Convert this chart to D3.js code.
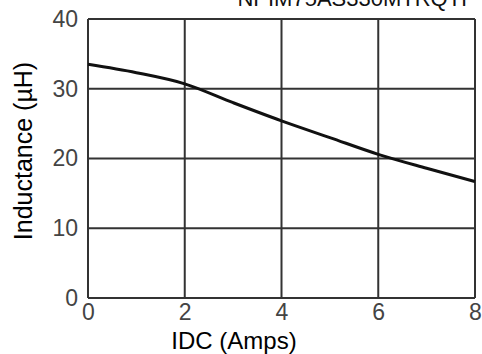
<!DOCTYPE html>
<html>
<head>
<meta charset="utf-8">
<script src="https://cdn.jsdelivr.net/npm/d3@7"></script>
<style>
  body { margin: 0; background: #fff; }
  svg { display: block; font-family: "Liberation Sans", Arial, sans-serif; }
</style>
</head>
<body>
<div id="chart"></div>
<script>
// Data
var currentAmps = [0, 1, 2, 3, 4, 5, 6, 7, 8];
var inductanceUH = [33.5, 32.3, 30.7, 28.0, 25.4, 23.0, 20.6, 18.6, 16.7];
var xTicks = [0, 2, 4, 6, 8];
var yTicks = [0, 10, 20, 30, 40];

var svgWidth = 482;
var svgHeight = 354;
var margin = {top: 19, right: 7, bottom: 56, left: 88};
var width = svgWidth - margin.left - margin.right;
var height = svgHeight - margin.top - margin.bottom;

var svg = d3.select("#chart")
  .append("svg")
  .attr("width", svgWidth)
  .attr("height", svgHeight);

// title, cut off by the top edge like the scan
svg.append("text")
  .attr("x", 356)
  .attr("y", 6)
  .attr("text-anchor", "middle")
  .style("font-size", "22px")
  .attr("fill", "#111")
  .text("NPIM75AS330MTRQTF");

var chart = svg.append("g")
  .attr("transform", `translate(${margin.left}, ${margin.top})`);

var x = d3.scaleLinear().domain([0, 8]).range([0, width]);
var y = d3.scaleLinear().domain([0, 40]).range([height, 0]);

// grid
chart.selectAll(".hgrid")
  .data(yTicks)
  .enter()
  .append("line")
  .attr("x1", 0)
  .attr("x2", width)
  .attr("y1", d => y(d))
  .attr("y2", d => y(d))
  .attr("stroke", "#333")
  .attr("stroke-width", 2);

chart.selectAll(".vgrid")
  .data(xTicks)
  .enter()
  .append("line")
  .attr("x1", d => x(d))
  .attr("x2", d => x(d))
  .attr("y1", 0)
  .attr("y2", height)
  .attr("stroke", "#333")
  .attr("stroke-width", 2);

// axes (labels only)
var bottomAxis = d3.axisBottom(x).tickValues(xTicks).tickSize(0).tickPadding(6);
var leftAxis = d3.axisLeft(y).tickValues(yTicks).tickSize(0).tickPadding(10);

var gx = chart.append("g")
  .attr("transform", `translate(0, ${height})`)
  .call(bottomAxis);
var gy = chart.append("g").call(leftAxis);

[gx, gy].forEach(function(g) {
  g.select(".domain").remove();
  g.selectAll("text")
    .style("font-size", "23px")
    .style("font-family", "'Liberation Sans', Arial, sans-serif")
    .attr("fill", "#444");
});

// curve
var line = d3.line()
  .x((d, i) => x(currentAmps[i]))
  .y(d => y(d))
  .curve(d3.curveMonotoneX);

chart.append("path")
  .datum(inductanceUH)
  .attr("d", line)
  .attr("fill", "none")
  .attr("stroke", "#111")
  .attr("stroke-width", 3);

// axis labels
svg.append("text")
  .attr("x", 234)
  .attr("y", 349)
  .attr("text-anchor", "middle")
  .style("font-size", "24px")
  .attr("fill", "#000")
  .text("IDC (Amps)");

svg.append("text")
  .attr("transform", "translate(32, 151) rotate(-90)")
  .attr("text-anchor", "middle")
  .style("font-size", "25px")
  .attr("fill", "#000")
  .text("Inductance (\u00B5H)");
</script>
</body>
</html>
